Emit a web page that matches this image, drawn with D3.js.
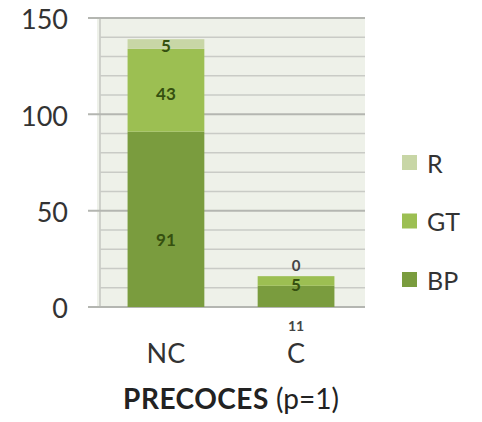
<!DOCTYPE html>
<html><head><meta charset="utf-8">
<script src="https://cdn.jsdelivr.net/npm/d3@7"></script>
<style>body{margin:0;background:#fff;} svg{display:block;font-family:Lato,"Open Sans",sans-serif;}</style>
</head><body><svg id="c" width="482" height="422"></svg>
<script>
const categories = ["NC", "C"];
const seriesNames = ["BP", "GT", "R"];
const BP = [91, 11];
const GT = [43, 5];
const R = [5, 0];
const yTicks = [0, 50, 100, 150];
const minorTicks = [10,20,30,40,60,70,80,90,110,120,130,140];
const xTitleBold = "PRECOCES";
const xTitleRest = " (p=1)";

(function(){
const colors = {BP: "#7a9c3e", GT: "#9cbf52", R: "#c8d6a6"};
const svg = d3.select("#c");
const pL = 97, pR = 365, pT = 18, pB = 307;

const y = d3.scaleLinear().domain([0,150]).range([pB, pT]);
const x = d3.scaleBand().domain(categories).range([pL, pR]).paddingInner(0.41).paddingOuter(0.235);

svg.append("rect").attr("x", pL).attr("y", pT).attr("width", pR-pL).attr("height", pB-pT).attr("fill", "#eef1e9");
svg.append("line").attr("x1", pL+3).attr("x2", pL+3).attr("y1", pT).attr("y2", pB).attr("stroke", "#cfd1cb").attr("stroke-width", 2);

svg.selectAll(".minor").data(minorTicks).enter().append("line")
  .attr("x1", pL+3).attr("x2", pR).attr("y1", d=>y(d)).attr("y2", d=>y(d))
  .attr("stroke", "#c9cbc6").attr("stroke-width", 1.5);
svg.selectAll(".major").data(yTicks).enter().append("line")
  .attr("x1", pL-9).attr("x2", pR).attr("y1", d=>y(d)).attr("y2", d=>y(d))
  .attr("stroke", "#b4b6b1").attr("stroke-width", 2);

svg.selectAll(".ytl").data(yTicks).enter().append("text")
  .attr("x", 68).attr("y", d=>y(d)+2).attr("dy", "0.35em").attr("text-anchor", "end")
  .attr("font-size", 27).attr("fill", "#333").text(d=>d);

const data = categories.map((c,i)=>({cat:c, BP:BP[i], GT:GT[i], R:R[i]}));
const stacked = d3.stack().keys(seriesNames)(data);

stacked.forEach(s=>{
  svg.selectAll(".b"+s.key).data(s).enter().append("rect")
    .attr("x", d=>x(d.data.cat)).attr("width", x.bandwidth())
    .attr("y", d=>y(d[1])).attr("height", d=>y(d[0])-y(d[1]))
    .attr("fill", colors[s.key]);
});

const lbl = (xx, yy, t, fs, col) => svg.append("text").attr("x", xx).attr("y", yy).attr("dy","0.35em")
  .attr("text-anchor","middle").attr("font-size",fs).attr("font-weight","bold").attr("fill",col).text(t);
const offs = {BP: 21, GT: 4, R: 2};
stacked.forEach(s=>{
  s.forEach(d=>{
    const cx = x(d.data.cat) + x.bandwidth()/2;
    const v = d.data[s.key];
    let yy, fs = 17, col = "#35500f";
    if (v === 0) { yy = y(d[1]) - 10; fs = 15; col = "#444"; }
    else if (d.data.cat === "C" && s.key === "BP") { yy = y(0) + 19; fs = 14; col = "#444"; }
    else yy = (y(d[0]) + y(d[1]))/2 + offs[s.key];
    lbl(cx, yy, v, fs, col);
  });
});

svg.selectAll(".xtl").data(categories).enter().append("text")
  .attr("x", d=>x(d)+x.bandwidth()/2).attr("y", 354).attr("dy","0.35em").attr("text-anchor","middle")
  .attr("font-size", 27).attr("fill", "#333").text(d=>d);

const tt = svg.append("text").attr("x", 231).attr("y", 399).attr("dy","0.35em").attr("text-anchor","middle")
  .attr("font-size", 28).attr("fill", "#222");
tt.append("tspan").attr("font-weight","bold").attr("letter-spacing", 0.5).text(xTitleBold);
tt.append("tspan").text(xTitleRest);

const legendOrder = ["R","GT","BP"];
const ly = d3.scalePoint().domain(legendOrder).range([163, 280]);
legendOrder.forEach(k=>{
  svg.append("rect").attr("x", 402).attr("y", ly(k)-8).attr("width", 15).attr("height", 15).attr("fill", colors[k]);
  svg.append("text").attr("x", 427).attr("y", ly(k)+1).attr("dy","0.35em").attr("font-size", 25).attr("fill","#333").text(k);
});
})();
</script></body></html>
